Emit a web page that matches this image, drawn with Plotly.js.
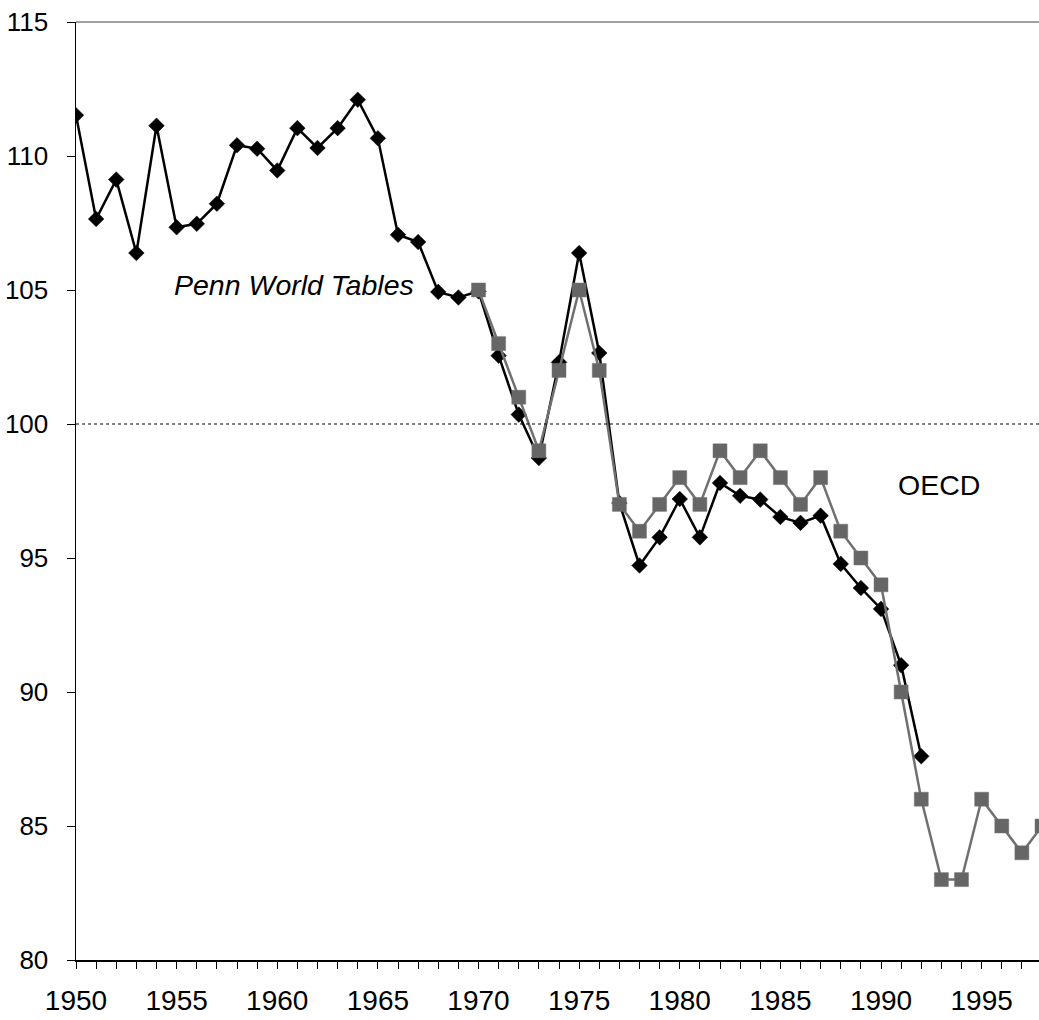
<!DOCTYPE html>
<html>
<head>
<meta charset="utf-8">
<script src="https://cdn.plot.ly/plotly-3.0.1.min.js"></script>
<style>html,body{margin:0;padding:0;background:#fff;}#chart{width:1039px;height:1020px;}</style>
</head>
<body>
<div id="chart"></div>
<script>
const pwtYears = [];
for (let y = 1950; y <= 1992; y++) pwtYears.push(y);
const pwtValues = [111.52, 107.65, 109.12, 106.38, 111.13, 107.34, 107.47, 108.22, 110.40, 110.27,
  109.46, 111.04, 110.30, 111.04, 112.10, 110.66, 107.06, 106.79, 104.93, 104.72,
  104.95, 102.55, 100.35, 98.73, 102.30, 106.38, 102.65, 97.05, 94.72, 95.77,
  97.20, 95.77, 97.80, 97.32, 97.18, 96.53, 96.31, 96.58, 94.78, 93.88,
  93.10, 91.00, 87.60];
const oecdYears = [];
for (let y = 1970; y <= 1998; y++) oecdYears.push(y);
const oecdValues = [105, 103, 101, 99, 102, 105, 102, 97, 96, 97,
  98, 97, 99, 98, 99, 98, 97, 98, 96, 95,
  94, 90, 86, 83, 83, 86, 85, 84, 85];
const refLevel = 100;
const xTickVals = [1950, 1955, 1960, 1965, 1970, 1975, 1980, 1985, 1990, 1995];
const yTickVals = [80, 85, 90, 95, 100, 105, 110, 115];
const seriesNames = ['Penn World Tables', 'OECD'];

const FONT = 'Liberation Sans, Arial, sans-serif';

const traces = [
  {
    x: pwtYears, y: pwtValues, type: 'scatter', mode: 'lines+markers', name: seriesNames[0],
    line: {color: '#000000', width: 2.5},
    marker: {symbol: 'diamond', size: 12, color: '#000000', line: {color: '#000000', width: 0.5}},
    cliponaxis: true
  },
  {
    x: oecdYears, y: oecdValues, type: 'scatter', mode: 'lines+markers', name: seriesNames[1],
    line: {color: '#707070', width: 2.5},
    marker: {symbol: 'square', size: 14, color: '#666666', line: {color: '#777777', width: 0.5}},
    cliponaxis: true
  }
];

const layout = {
  width: 1039, height: 1020,
  margin: {l: 76, r: 0, t: 22, b: 60},
  paper_bgcolor: '#ffffff', plot_bgcolor: '#ffffff',
  showlegend: false,
  font: {family: FONT, size: 26, color: '#000000'},
  xaxis: {
    range: [1950, 1997.85],
    tickvals: xTickVals, ticktext: xTickVals.map(String),
    ticks: 'outside', ticklen: 7, tickwidth: 1, tickcolor: '#000000',
    minor: {dtick: 1, tick0: 1950, ticks: 'outside', ticklen: 7, tickwidth: 1, tickcolor: '#000000', showgrid: false},
    showline: true, linecolor: '#000000', linewidth: 1.5,
    showgrid: false, zeroline: false,
    ticklabelstandoff: 8,
    tickfont: {family: FONT, size: 28, color: '#000000'}
  },
  yaxis: {
    range: [80, 115],
    tickvals: yTickVals,
    ticks: 'outside', ticklen: 8, tickwidth: 1, tickcolor: '#000000',
    showline: true, linecolor: '#000000', linewidth: 1.5,
    showgrid: false, zeroline: false,
    ticklabelstandoff: 13,
    tickfont: {family: FONT, size: 26, color: '#000000'}
  },
  shapes: [
    {type: 'line', xref: 'paper', yref: 'y', x0: 0, x1: 1, y0: refLevel, y1: refLevel,
     line: {color: '#000000', width: 1, dash: 'dot'}},
    {type: 'line', xref: 'paper', yref: 'paper', x0: 0, x1: 1, y0: 1, y1: 1,
     line: {color: '#808080', width: 1.5}}
  ],
  annotations: [
    {text: '<i>Penn World Tables</i>', xref: 'x', yref: 'y', x: 1960.82, y: 105.19,
     showarrow: false, font: {family: FONT, size: 28.5, color: '#000000'}},
    {text: 'OECD', xref: 'x', yref: 'y', x: 1992.9, y: 97.72,
     showarrow: false, font: {family: FONT, size: 28.5, color: '#000000'}}
  ]
};

Plotly.newPlot('chart', traces, layout, {displayModeBar: false, staticPlot: true});
</script>
</body>
</html>
